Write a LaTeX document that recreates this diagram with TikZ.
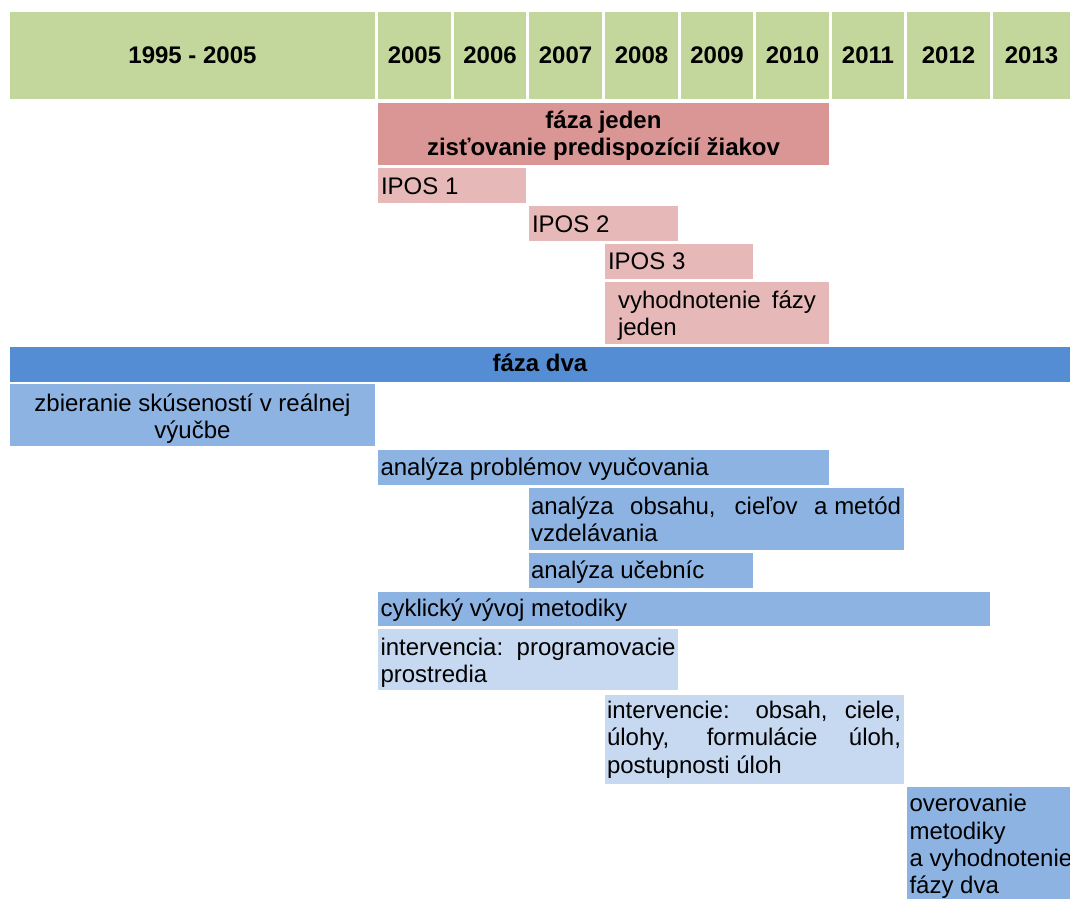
\documentclass[tikz,border=0pt]{standalone}
\usepackage{fontspec}
\setmainfont{Liberation Sans}
\definecolor{hdrgreen}{HTML}{C3D69B}
\definecolor{redmid}{HTML}{D99694}
\definecolor{redlight}{HTML}{E6B9B8}
\definecolor{bluedark}{HTML}{548DD4}
\definecolor{bluemid}{HTML}{8DB3E2}
\definecolor{bluelight}{HTML}{C6D9F1}
\begin{document}
\begin{tikzpicture}[x=0.5pt,y=-0.5pt,
  hcell/.style={fill=hdrgreen, anchor=north west, inner sep=0pt, outer sep=0pt,
    minimum height=43.5pt, font=\bfseries\fontsize{12}{13.7}\selectfont},
  bar/.style={fill=#1, anchor=north west, inner sep=0pt, outer sep=0pt},
  txt/.style={inner sep=0pt, outer sep=0pt, anchor=base west, font=\fontsize{12}{13.7}\selectfont},
  btxt/.style={inner sep=0pt, outer sep=0pt, anchor=base west, font=\bfseries\fontsize{12}{13.7}\selectfont}]
\useasboundingbox (0,0) rectangle (1070,899);

% header row
\node[hcell, minimum width=182.5pt] (h0) at (10,12) {1995 - 2005};
\node[hcell, minimum width=36.5pt] (h2005) at (378,12) {2005};
\node[hcell, minimum width=36pt]   (h2006) at (454,12) {2006};
\node[hcell, minimum width=36.5pt] (h2007) at (529,12) {2007};
\node[hcell, minimum width=36.5pt] (h2008) at (605,12) {2008};
\node[hcell, minimum width=36pt]   (h2009) at (681,12) {2009};
\node[hcell, minimum width=36.5pt] (h2010) at (756,12) {2010};
\node[hcell, minimum width=36pt]   (h2011) at (832,12) {2011};
\node[hcell, minimum width=41.5pt] (h2012) at (907,12) {2012};
\node[hcell, minimum width=38.5pt] (h2013) at (993,12) {2013};

% phase one
\node[bar=redmid, minimum width=225.5pt, minimum height=31pt] (f1) at (378,103) {};
\node[btxt] (f1t) at (378,128.3) {\parbox[t]{225.5pt}{\centering fáza jeden\\ zisťovanie predispozícií žiakov}};

\node[bar=redlight, minimum width=74pt, minimum height=17.5pt] (ipos1) at (378,168) {};
\node[txt] (ipos1t) at (381,194.3) {IPOS 1};

\node[bar=redlight, minimum width=74.5pt, minimum height=17.25pt] (ipos2) at (529,206) {};
\node[txt] (ipos2t) at (532,232) {IPOS 2};

\node[bar=redlight, minimum width=74pt, minimum height=17.25pt] (ipos3) at (605,244) {};
\node[txt] (ipos3t) at (608,269.8) {IPOS 3};

\node[bar=redlight, minimum width=112pt, minimum height=30.75pt] (vyh) at (605,282) {};
\node[txt] (vyht) at (618,308.3) {\parbox[t]{99pt}{\makebox[99pt][s]{vyhodnotenie fázy}\\ jeden}};

% phase two
\node[bar=bluedark, minimum width=530pt, minimum height=17.5pt] (f2) at (10,347) {};
\node[btxt, anchor=base] (f2t) at (540,371.7) {fáza dva};

\node[bar=bluemid, minimum width=182.5pt, minimum height=31pt] (zb) at (10,384) {};
\node[txt] (zbt) at (10,411.5) {\parbox[t]{182.5pt}{\centering zbieranie skúseností v reálnej\\ výučbe}};

\node[bar=bluemid, minimum width=225.5pt, minimum height=17.5pt] (ap) at (378,450) {};
\node[txt] (apt) at (380.5,475) {analýza problémov vyučovania};

\node[bar=bluemid, minimum width=187.5pt, minimum height=30.75pt] (ao) at (529,488) {};
\node[txt] (aot) at (531,514) {\parbox[t]{185pt}{\makebox[185pt][s]{analýza obsahu, cieľov a\hspace{0.278em}metód}\\ vzdelávania}};

\node[bar=bluemid, minimum width=112pt, minimum height=17.25pt] (au) at (529,553) {};
\node[txt] (aut) at (531,578.3) {analýza učebníc};

\node[bar=bluemid, minimum width=306pt, minimum height=17.25pt] (cv) at (378,591.5) {};
\node[txt] (cvt) at (380.5,616.7) {cyklický vývoj metodiky};

\node[bar=bluelight, minimum width=150pt, minimum height=30.75pt] (ip) at (378,628.5) {};
\node[txt] (ipt) at (380.5,655) {\parbox[t]{147.5pt}{\makebox[147.5pt][s]{intervencia: programovacie}\\ prostredia}};

\node[bar=bluelight, minimum width=149.5pt, minimum height=44.5pt] (io) at (605,694.5) {};
\node[txt] (iot) at (607,718.3) {\parbox[t]{147pt}{\makebox[147pt][s]{intervencie: obsah, ciele,}\\ \makebox[147pt][s]{úlohy, formulácie úloh,}\\ postupnosti úloh}};

\node[bar=bluemid, minimum width=81.5pt, minimum height=56pt] (ov) at (907,787) {};
\node[txt] (ovt) at (909.5,811.7) {\parbox[t]{90pt}{overovanie\\ metodiky\\ a vyhodnotenie\\ fázy dva}};
\end{tikzpicture}
\end{document}
